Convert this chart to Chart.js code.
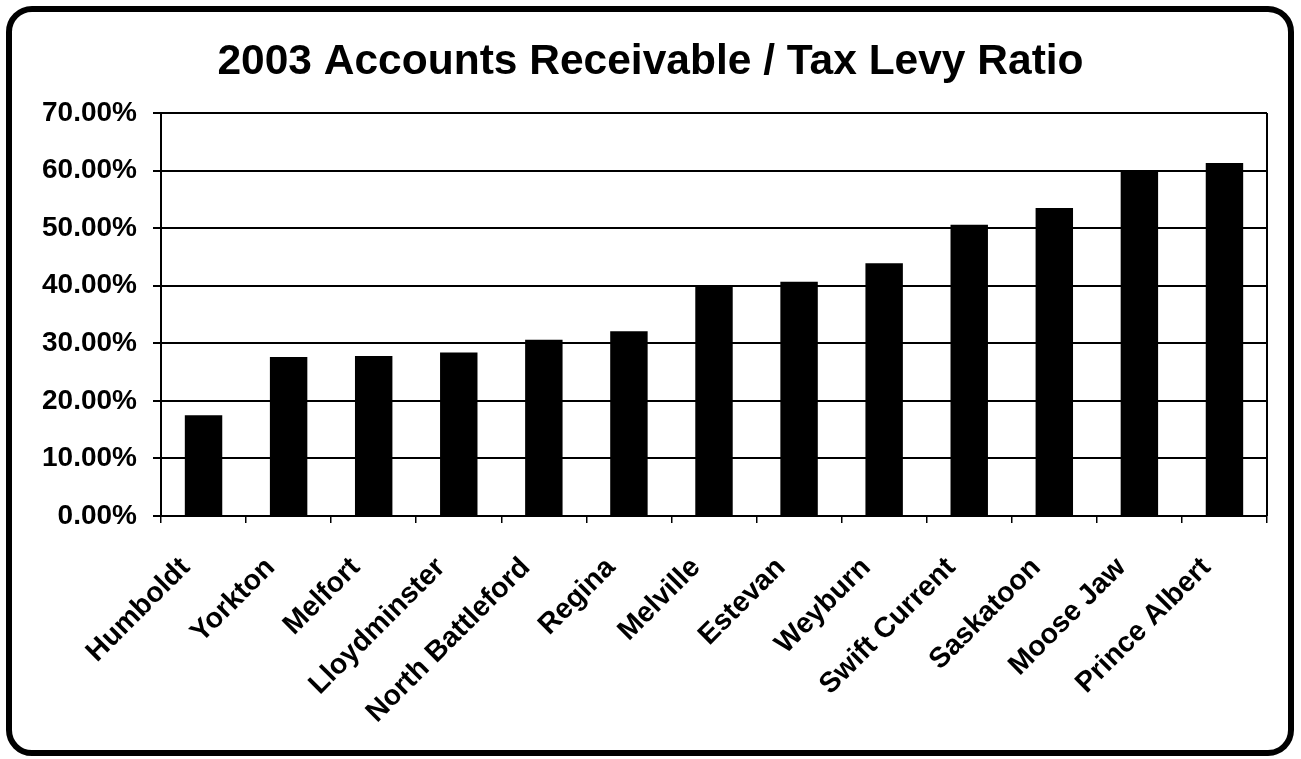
<!DOCTYPE html>
<html>
<head>
<meta charset="utf-8">
<title>2003 Accounts Receivable / Tax Levy Ratio</title>
<script src="https://cdn.jsdelivr.net/npm/chart.js@4.4.1/dist/chart.umd.min.js"></script>
<style>
  html, body { margin: 0; padding: 0; background: #fff; }
  #wrap { position: relative; width: 1301px; height: 759px; overflow: hidden; background: #fff; }
  #frame {
    position: absolute; left: 6px; top: 6px; width: 1288px; height: 750px;
    box-sizing: border-box; border: 6px solid #000; border-radius: 26px;
    pointer-events: none;
  }
  #chart { position: absolute; left: 0; top: 0; }
</style>
</head>
<body>
<div id="wrap">
  <canvas id="chart" width="1301" height="759"></canvas>
  <div id="frame"></div>
</div>
<script>
// Cities, ordered from lowest to highest ratio
const cities = [
  'Humboldt', 'Yorkton', 'Melfort', 'Lloydminster', 'North Battleford',
  'Regina', 'Melville', 'Estevan', 'Weyburn', 'Swift Current',
  'Saskatoon', 'Moose Jaw', 'Prince Albert'
];

// Accounts receivable as a percentage of the tax levy
const ratioPercent = [
  17.5, 27.6, 27.8, 28.4, 30.6,
  32.1, 39.9, 40.7, 43.9, 50.6,
  53.5, 60.1, 61.3
];

// Value axis range and step (percent)
const axisMin = 0;
const axisMax = 70;
const axisStep = 10;

const chartTitle = '2003 Accounts Receivable / Tax Levy Ratio';

const fontFamily = '"Liberation Sans", Arial, Helvetica, sans-serif';

// Outline the plot area on its right side like the other edges
const plotEdge = {
  id: 'plotEdge',
  afterDatasetsDraw(chart) {
    const { ctx, chartArea } = chart;
    ctx.save();
    ctx.strokeStyle = '#000';
    ctx.lineWidth = 2;
    ctx.beginPath();
    ctx.moveTo(chartArea.right, chartArea.top);
    ctx.lineTo(chartArea.right, chartArea.bottom);
    ctx.stroke();
    ctx.restore();
  }
};

const whiteBackground = {
  id: 'whiteBackground',
  beforeDraw(chart) {
    const { ctx } = chart;
    ctx.save();
    ctx.fillStyle = '#fff';
    ctx.fillRect(0, 0, chart.width, chart.height);
    ctx.restore();
  }
};

new Chart(document.getElementById('chart'), {
  type: 'bar',
  data: {
    labels: cities,
    datasets: [{
      label: 'A/R to tax levy',
      data: ratioPercent,
      backgroundColor: '#000',
      borderWidth: 0,
      categoryPercentage: 1.0,
      barPercentage: 0.44
    }]
  },
  options: {
    responsive: false,
    animation: false,
    devicePixelRatio: 1,
    layout: { padding: { left: 34, right: 34, top: 0, bottom: 0 } },
    plugins: {
      legend: { display: false },
      tooltip: { enabled: false },
      title: {
        display: true,
        text: chartTitle,
        color: '#000',
        font: { family: fontFamily, size: 42.5, weight: 'bold', lineHeight: 1.2 },
        padding: { top: 37, bottom: 25 }
      }
    },
    scales: {
      x: {
        grid: {
          display: true,
          offset: true,
          drawOnChartArea: false,
          drawTicks: true,
          tickLength: 7,
          color: '#000',
          lineWidth: 1.5
        },
        border: { display: true, color: '#000', width: 2 },
        ticks: {
          autoSkip: false,
          minRotation: 45,
          maxRotation: 45,
          padding: 28,
          labelOffset: -18,
          color: '#000',
          font: { family: fontFamily, size: 28.5, weight: 'bold' }
        },
        afterFit(scale) { scale.height = 243; }
      },
      y: {
        min: axisMin,
        max: axisMax,
        grid: {
          color: '#000',
          lineWidth: 2,
          tickLength: 8,
          drawTicks: true
        },
        border: { display: true, color: '#000', width: 2 },
        ticks: {
          stepSize: axisStep,
          padding: 16,
          color: '#000',
          font: { family: fontFamily, size: 28, weight: 'bold' },
          callback: (v) => v.toFixed(2) + '%'
        },
        afterFit(scale) { scale.width = 127; }
      }
    }
  },
  plugins: [whiteBackground, plotEdge]
});
</script>
</body>
</html>
